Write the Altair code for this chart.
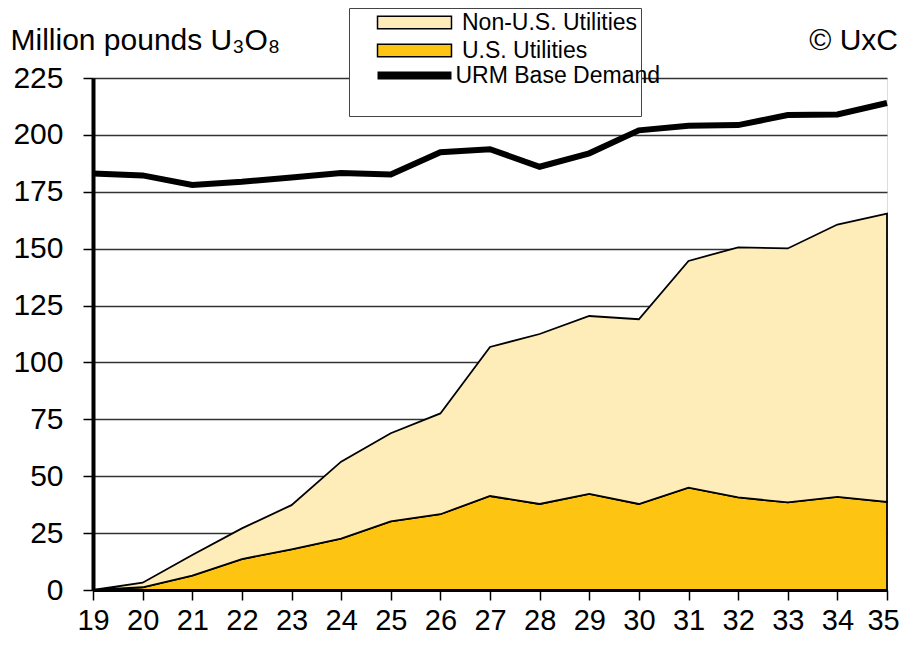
import altair as alt
import pandas as pd

years = list(range(19, 36))
us_utilities = [0, 1.2, 6.3, 13.6, 17.9, 22.6, 30.2, 33.3, 41.3, 37.8, 42.2, 37.8, 45.0, 40.7, 38.5, 40.9, 38.7]
total_utilities = [0, 3.2, 15.4, 27.1, 37.3, 56.4, 68.9, 77.6, 106.8, 112.5, 120.4, 119.0, 144.6, 150.6, 150.1, 160.6, 165.4]
urm_base_demand = [183.0, 182.2, 178.0, 179.4, 181.3, 183.3, 182.6, 192.4, 193.7, 186.0, 191.9, 202.0, 204.0, 204.3, 208.7, 209.0, 214.0]

area_names = ["Non-U.S. Utilities", "U.S. Utilities"]
area_colors = ["#FEEDB9", "#FEC412"]
line_names = ["URM Base Demand"]
line_colors = ["#000000"]
y_ticks = list(range(0, 226, 25))

rows = []
for i, yr in enumerate(years):
    rows.append({"year": yr, "series": "U.S. Utilities", "low": 0.0, "high": us_utilities[i]})
    rows.append({"year": yr, "series": "Non-U.S. Utilities", "low": us_utilities[i], "high": total_utilities[i]})
area_df = pd.DataFrame(rows)
line_df = pd.DataFrame({"year": years, "series": "URM Base Demand", "value": urm_base_demand})

FONT = "Liberation Sans"

fill_legend = alt.Legend(
    title="\u00a0" * 58,
    titleOrient="bottom",
    titleFontSize=22,
    titlePadding=29,
    titleLimit=600,
    orient="none",
    legendX=256,
    legendY=-70,
    fillColor="white",
    strokeColor="#444444",
    padding=3,
    symbolType="M-6,-1H6V1H-6Z",
    symbolSize=152,
    symbolStrokeColor="black",
    symbolStrokeWidth=1.5,
    symbolOffset=51,
    labelFont=FONT,
    labelFontSize=23,
    labelColor="black",
    labelOffset=36,
    labelLimit=400,
    rowPadding=4,
    zindex=0,
)

stroke_legend = alt.Legend(
    title=None,
    orient="none",
    legendX=256,
    legendY=-17,
    padding=3,
    symbolType="M-6,0H6",
    symbolSize=152,
    symbolStrokeWidth=8,
    symbolOffset=51,
    labelFont=FONT,
    labelFontSize=23,
    labelColor="black",
    labelOffset=29.5,
    labelLimit=400,
    zindex=1,
)

x_enc = alt.X(
    "year:Q",
    scale=alt.Scale(domain=[19, 35], nice=False, zero=False),
    axis=alt.Axis(values=years, format="d", title=None, grid=False,
                  labelOverlap=False, labelFlush=False,
                  labelOffset={"condition": {"test": "datum.value == 35", "value": -4}, "value": 0},
                  labelFontSize=29, labelFont=FONT, labelColor="black",
                  tickSize=10, tickWidth=1.5, tickColor="black",
                  labelPadding=6, domainColor="black", domainWidth=3),
)

areas = alt.Chart(area_df).mark_area(stroke="black", strokeWidth=1.8, opacity=1).encode(
    x=x_enc,
    y=alt.Y(
        "high:Q",
        scale=alt.Scale(domain=[0, 225], nice=False),
        axis=alt.Axis(values=y_ticks, title="Million pounds U₃O₈", titleAngle=0,
                      titleX=-83, titleY=-29, titleAlign="left", titleBaseline="alphabetic",
                      titleFont=FONT, titleFontSize=30, titleFontWeight="normal", titleColor="black",
                      labelFontSize=30, labelFont=FONT, labelColor="black",
                      tickSize=10, tickWidth=1.5, tickColor="black", labelPadding=20,
                      domainColor="black", domainWidth=4,
                      grid=True, gridColor="#333333", gridWidth=1.5),
    ),
    y2="low:Q",
    fill=alt.Fill("series:N", scale=alt.Scale(domain=area_names, range=area_colors), legend=fill_legend),
)

line = alt.Chart(line_df).mark_line(strokeWidth=6).encode(
    x="year:Q",
    y="value:Q",
    stroke=alt.Stroke("series:N", scale=alt.Scale(domain=line_names, range=line_colors), legend=stroke_legend),
)

credit = alt.Chart(pd.DataFrame({"t": ["© UxC"]})).mark_text(
    align="right", baseline="alphabetic", font=FONT, fontSize=30, color="black"
).encode(text="t:N", x=alt.value(805), y=alt.value(-28))

chart = alt.layer(areas, line, credit).resolve_legend(fill="independent", stroke="independent").properties(
    width=794,
    height=512,
    autosize=alt.AutoSizeParams(type="none"),
    padding={"left": 85, "top": 70, "right": 13, "bottom": 48},
).configure_view(stroke="black", strokeWidth=3).configure(background="white")

chart.save("out.html", embed_options={"renderer": "svg", "actions": False})
